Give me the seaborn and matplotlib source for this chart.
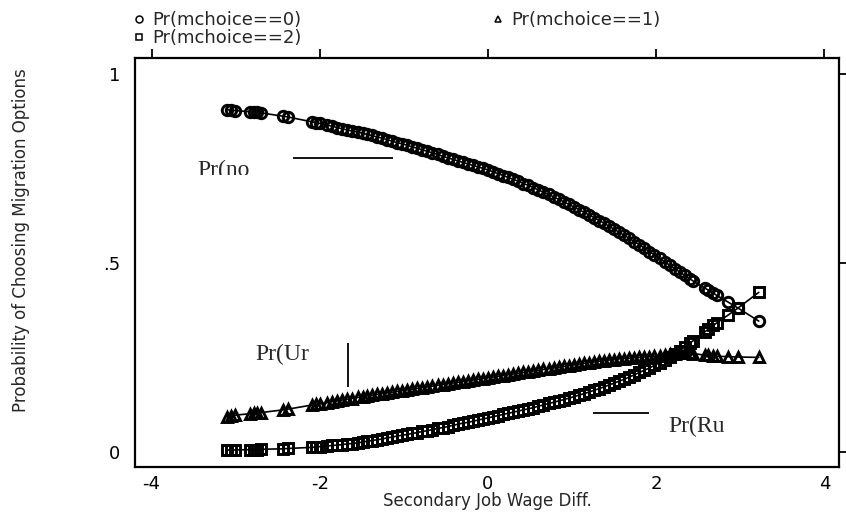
import matplotlib
matplotlib.use("Agg")
import matplotlib.pyplot as plt
import seaborn as sns
from matplotlib.lines import Line2D
from matplotlib.transforms import Bbox, TransformedBbox

# secondary job wage difference (sorted observations)
wage_diff = [
    -3.10, -3.05, -3.01, -2.83, -2.78, -2.75, -2.70, -2.44, -2.38, -2.09,
    -2.04, -2.00, -1.92, -1.85, -1.79, -1.74, -1.68, -1.62, -1.55, -1.49,
    -1.44, -1.38, -1.32, -1.26, -1.20, -1.14, -1.08, -1.02, -0.96, -0.90,
    -0.84, -0.78, -0.72, -0.66, -0.60, -0.54, -0.48, -0.42, -0.36, -0.30,
    -0.24, -0.18, -0.12, -0.06, 0.00, 0.06, 0.12, 0.18, 0.24, 0.30,
    0.36, 0.42, 0.48, 0.54, 0.60, 0.66, 0.72, 0.78, 0.84, 0.90,
    0.96, 1.02, 1.08, 1.14, 1.20, 1.26, 1.32, 1.38, 1.44, 1.50,
    1.56, 1.62, 1.68, 1.74, 1.80, 1.86, 1.92, 1.98, 2.04, 2.10,
    2.16, 2.22,
    2.28, 2.34, 2.40, 2.44, 2.58, 2.62, 2.68, 2.72, 2.85, 2.97, 3.22,
]

# Pr(mchoice==0)
pr_choice0 = [
    0.905, 0.904, 0.903, 0.900, 0.899, 0.898, 0.897, 0.888, 0.886, 0.873,
    0.871, 0.869, 0.865, 0.861, 0.858, 0.855, 0.852, 0.849, 0.846, 0.843,
    0.840, 0.837, 0.833, 0.830, 0.826, 0.822, 0.818, 0.815, 0.811, 0.807,
    0.803, 0.799, 0.795, 0.791, 0.787, 0.782, 0.778, 0.774, 0.770, 0.766,
    0.762, 0.758, 0.754, 0.750, 0.746, 0.741, 0.736, 0.731, 0.726, 0.721,
    0.716, 0.710, 0.705, 0.699, 0.693, 0.687, 0.681, 0.675, 0.668, 0.662,
    0.655, 0.648, 0.641, 0.634, 0.627, 0.620, 0.612, 0.605, 0.597, 0.589,
    0.581, 0.573, 0.565, 0.556, 0.548, 0.539, 0.530, 0.521, 0.512, 0.503,
    0.494, 0.485,
    0.476, 0.467, 0.458, 0.452, 0.433, 0.428, 0.420, 0.414, 0.397, 0.381, 0.346,
]

# Pr(mchoice==1)
pr_choice1 = [
    0.093, 0.095, 0.097, 0.101, 0.102, 0.103, 0.104, 0.111, 0.113, 0.124,
    0.126, 0.127, 0.130, 0.133, 0.135, 0.137, 0.139, 0.141, 0.144, 0.146,
    0.148, 0.150, 0.152, 0.154, 0.156, 0.158, 0.160, 0.162, 0.164, 0.166,
    0.168, 0.170, 0.172, 0.174, 0.176, 0.178, 0.180, 0.182, 0.184, 0.186,
    0.188, 0.190, 0.192, 0.194, 0.196, 0.198, 0.200, 0.202, 0.204, 0.206,
    0.208, 0.210, 0.212, 0.214, 0.216, 0.218, 0.220, 0.222, 0.224, 0.226,
    0.228, 0.230, 0.232, 0.234, 0.236, 0.238, 0.240, 0.241, 0.243, 0.244,
    0.246, 0.247, 0.248, 0.249, 0.250, 0.251, 0.252, 0.253, 0.254, 0.256,
    0.258, 0.260,
    0.262, 0.262, 0.261, 0.260, 0.256, 0.255, 0.254, 0.253, 0.252, 0.251, 0.250,
]

# Pr(mchoice==2)
pr_choice2 = [
    0.005, 0.005, 0.005, 0.006, 0.006, 0.006, 0.007, 0.008, 0.009, 0.012,
    0.013, 0.014, 0.015, 0.017, 0.018, 0.019, 0.021, 0.022, 0.024, 0.026,
    0.028, 0.030, 0.032, 0.034, 0.037, 0.039, 0.042, 0.044, 0.046, 0.049,
    0.051, 0.054, 0.056, 0.059, 0.062, 0.064, 0.067, 0.070, 0.073, 0.076,
    0.078, 0.081, 0.084, 0.087, 0.090, 0.093, 0.096, 0.099, 0.102, 0.105,
    0.108, 0.111, 0.114, 0.117, 0.121, 0.124, 0.128, 0.131, 0.135, 0.138,
    0.142, 0.146, 0.150, 0.154, 0.158, 0.163, 0.167, 0.172, 0.177, 0.182,
    0.187, 0.192, 0.198, 0.204, 0.210, 0.216, 0.222, 0.229, 0.236, 0.243,
    0.251, 0.259,
    0.268, 0.278, 0.288, 0.294, 0.318, 0.324, 0.335, 0.341, 0.361, 0.380, 0.422,
]

series_labels = ["Pr(mchoice==0)", "Pr(mchoice==1)", "Pr(mchoice==2)"]
series_markers = ["o", "^", "s"]
x_ticks = [-4, -2, 0, 2, 4]
y_ticks = [0, 0.5, 1]
y_tick_labels = ["0", ".5", "1"]

sns.set_style("white")
plt.rcParams['font.family'] = ['DejaVu Sans']

fig = plt.figure(figsize=(8.46, 5.12), dpi=100)
ax = fig.add_axes([0.1596, 0.0879, 0.8321, 0.7988])

for ys, mk in zip([pr_choice0, pr_choice1, pr_choice2], series_markers):
    sns.lineplot(x=wage_diff, y=ys, ax=ax, color="black", linewidth=1.2,
                 marker=mk, markersize=7.5, markerfacecolor="none",
                 markeredgecolor="black", markeredgewidth=2.1, sort=False)

ax.set_xlim(-4.197, 4.174)
ax.set_ylim(-0.040, 1.042)
ax.set_xticks(x_ticks)
ax.set_xticklabels([str(t) for t in x_ticks])
ax.set_yticks(y_ticks)
ax.set_yticklabels(y_tick_labels)
ax.tick_params(axis="both", direction="out", length=6.5, width=1.3,
               labelsize=13, colors="black",
               top=True, right=True, labeltop=False, labelright=False)
ax.tick_params(axis="x", pad=-1)
ax.tick_params(axis="y", pad=4)
for sp in ax.spines.values():
    sp.set_visible(True)
    sp.set_linewidth(1.6)
    sp.set_color("black")

ax.set_xlabel("Secondary Job Wage Diff.", fontsize=12)
ax.xaxis.set_label_coords(0.5, -0.061)
ax.set_ylabel("Probability of Choosing Migration Options", fontsize=12)
ax.yaxis.set_label_coords(-0.149, 0.555)

# clipped text annotations as in the original graph
t_no = ax.text(-3.45, 0.730, "Pr(no", family="Liberation Serif", fontsize=17)
t_no.set_clip_box(TransformedBbox(Bbox([[-4.2, 0.733], [4.2, 1.1]]), ax.transData))
t_no.set_clip_on(True)
ax.hlines(0.778, -2.32, -1.13, color="black", linewidth=1.3)
ax.text(-2.77, 0.243, "Pr(Ur", family="Liberation Serif", fontsize=17)
ax.vlines(-1.665, 0.172, 0.288, color="black", linewidth=1.3)
ax.text(2.14, 0.053, "Pr(Ru", family="Liberation Serif", fontsize=17)
ax.hlines(0.103, 1.25, 1.91, color="black", linewidth=1.3)

handles = [Line2D([], [], linestyle="none", marker=m, markersize=5,
                  markerfacecolor="none", markeredgecolor="black",
                  markeredgewidth=1.1) for m in series_markers]
# column-wise fill: 0 and 2 in the first column, 1 in the second
ax.legend([handles[0], handles[2], handles[1]],
          [series_labels[0], series_labels[2], series_labels[1]],
          ncol=2, loc="upper left", bbox_to_anchor=(134 / 846, 1 - 11 / 512),
          bbox_transform=fig.transFigure, frameon=False, fontsize=13,
          handlelength=0.6, handletextpad=0.4, columnspacing=10.6,
          labelspacing=0.0, borderpad=0, borderaxespad=0)

fig.savefig("out.png", dpi=100)
